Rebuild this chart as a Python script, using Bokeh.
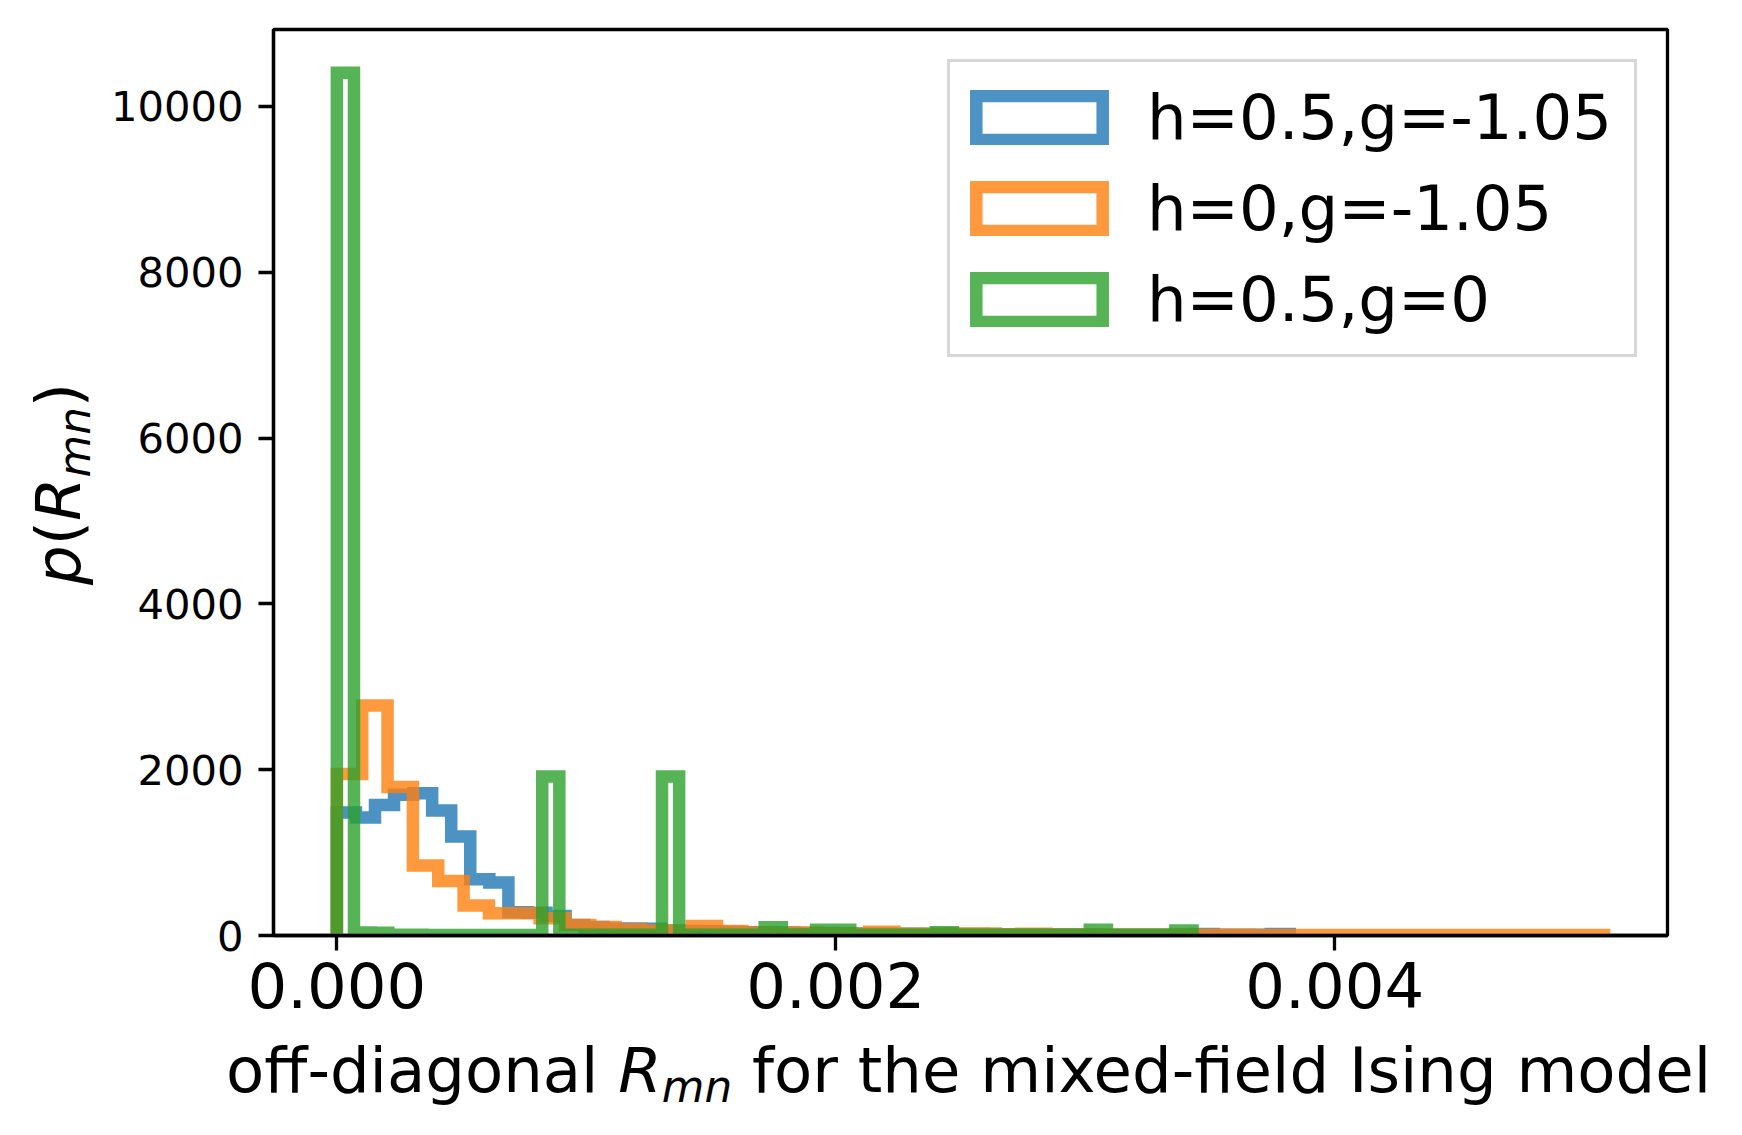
import numpy as np
from bokeh.plotting import figure
from bokeh.layouts import row, column
from bokeh.models import (Range1d, FixedTicker, NumeralTickFormatter, Legend,
                          LegendItem, Div)
from bokeh.embed import file_html
from bokeh.resources import INLINE

# ---------------- data ----------------
series_labels = ["h=0.5,g=-1.05", "h=0,g=-1.05", "h=0.5,g=0"]
series_colors = ["#1f77b4", "#ff7f0e", "#2ca02c"]

# upper end of the histogram range of each series (lower end is 0, 50 bins)
blue_max = 0.00382
orange_max = 0.00508
green_max = 0.00343

blue_vals = [1485, 1424, 1575, 1698, 1716, 1508, 1193, 680, 640, 280,
             275, 236, 128, 104, 83, 83, 80, 60, 55, 50,
             45, 40, 40, 35, 30, 30, 28, 25, 25, 22,
             20, 20, 18, 18, 15, 15, 15, 12, 12, 12,
             10, 10, 10, 10, 12, 18, 8, 8, 10, 18]

orange_vals = [1947, 2775, 1790, 845, 657, 363, 267, 269, 208, 128,
               104, 76, 60, 55, 116, 55, 35, 25, 35, 25,
               22, 44, 20, 18, 25, 25, 15, 22, 12, 12,
               10, 10, 10, 8, 8, 8, 7, 7, 7, 7,
               6, 6, 6, 6, 5, 5, 5, 5, 5, 5]

green_vals = [10408, 35, 32, 8, 8, 6, 6, 6, 6, 6,
              6, 6, 1917, 8, 8, 8, 8, 8, 8, 1917,
              10, 10, 10, 10, 10, 100, 12, 12, 68, 68,
              10, 10, 10, 10, 10, 40, 10, 10, 10, 10,
              10, 10, 10, 10, 68, 10, 10, 10, 10, 60]

x_ticks = [0.0, 0.002, 0.004]
y_ticks = [0, 2000, 4000, 6000, 8000, 10000]

x_label_parts = ["off-diagonal ", "R", "mn", " for the mixed-field Ising model"]
y_label_parts = ["p", "(", "R", "mn", ")"]

# ---------------- helpers ----------------
def step_path(vals, vmax):
    edges = np.linspace(0.0, vmax, len(vals) + 1)
    xs = np.repeat(edges, 2)
    ys = np.concatenate([[0.0], np.repeat(np.asarray(vals, float), 2), [0.0]])
    return xs, ys

all_max_x = max(blue_max, orange_max, green_max)
all_max_y = max(max(blue_vals), max(orange_vals), max(green_vals))

# layout geometry (pixels)
YL_W = 100          # strip holding the y label
FW, FH = 1394, 906  # plot frame
BL, BR, BT, BB = 173, 59, 29, 100
XL_H = 84           # strip holding the x label
TOTAL_H = BT + FH + BB + XL_H
MAIN_W = BL + FW + BR

p = figure(frame_width=FW, frame_height=FH,
           x_range=Range1d(-0.05 * all_max_x, 1.05 * all_max_x),
           y_range=Range1d(0, 1.05 * all_max_y),
           output_backend="svg", toolbar_location=None,
           min_border_left=BL, min_border_right=BR,
           min_border_top=BT, min_border_bottom=BB)

p.xgrid.visible = False
p.ygrid.visible = False
p.background_fill_color = "white"
p.border_fill_color = "white"
p.outline_line_color = "black"
p.outline_line_width = 3.3
p.outline_line_alpha = 1.0

for ax in (p.xaxis[0], p.yaxis[0]):
    ax.axis_line_color = "black"
    ax.axis_line_width = 3.3
    ax.major_tick_line_color = "black"
    ax.major_tick_line_width = 3.3
    ax.major_tick_out = 15
    ax.major_tick_in = 0
    ax.minor_tick_line_color = None
    ax.major_label_text_font = "DejaVu Sans"
    ax.major_label_text_color = "black"

p.xaxis.ticker = FixedTicker(ticks=x_ticks)
p.xaxis.formatter = NumeralTickFormatter(format="0.000")
p.xaxis.major_label_text_font_size = "62.5px"
p.xaxis.major_label_standoff = 11

p.yaxis.ticker = FixedTicker(ticks=y_ticks)
p.yaxis.formatter = NumeralTickFormatter(format="0")
p.yaxis.major_label_text_font_size = "41.7px"
p.yaxis.major_label_standoff = 15

LW = 12.5
items = []
for vals, vmax, col, lab in zip([blue_vals, orange_vals, green_vals],
                                [blue_max, orange_max, green_max],
                                series_colors, series_labels):
    xs, ys = step_path(vals, vmax)
    p.line(xs, ys, line_color=col, line_alpha=0.8, line_width=LW,
           line_join="miter", line_cap="butt")
    # legend swatch (outlined box, like a step-histogram patch); nothing drawn in the frame
    r = p.quad(left=[np.nan], right=[np.nan], bottom=[np.nan], top=[np.nan],
               fill_color=None, fill_alpha=0, line_color=col, line_alpha=0.8,
               line_width=LW, line_join="miter")
    items.append(LegendItem(label=lab, renderers=[r]))

legend = Legend(items=items, location="top_right", margin=30, padding=10,
                spacing=1, glyph_width=158, glyph_height=55, label_height=90,
                label_standoff=29, label_width=477,
                label_text_font="DejaVu Sans", label_text_font_size="62.5px",
                label_text_color="black",
                border_line_color="#d6d6d6", border_line_width=3.3,
                border_line_alpha=1.0,
                background_fill_color="white", background_fill_alpha=0.8)
p.add_layout(legend)

# ---------------- axis labels as real text (upright / italic / subscript) ----------------
FONT = "font-family:'DejaVu Sans';font-size:62.5px;line-height:62.5px;color:black;white-space:nowrap;"
SUBSTYLE = "font-size:43.75px;position:relative;top:10px;"

x_html = (x_label_parts[0] + "<i>" + x_label_parts[1] + "</i>"
          + "<i style=\"" + SUBSTYLE + "\">" + x_label_parts[2] + "</i>"
          + x_label_parts[3])
x_left = BL + FW / 2 - 743.9
x_div = Div(text=("<div style=\"position:relative;width:%dpx;height:%dpx;\">"
                  "<div style=\"position:absolute;left:%.1fpx;top:4.5px;%s\">%s</div></div>")
                 % (MAIN_W, XL_H, x_left, FONT, x_html),
            width=MAIN_W, height=XL_H, margin=(0, 0, 0, 0))

y_html = ("<i>" + y_label_parts[0] + "</i>" + y_label_parts[1]
          + "<i>" + y_label_parts[2] + "</i>"
          + "<i style=\"" + SUBSTYLE + "\">" + y_label_parts[3] + "</i>"
          + y_label_parts[4])
y_top = BT + FH / 2 + 2 + 101.1
y_div = Div(text=("<div style=\"position:relative;width:%dpx;height:%dpx;\">"
                  "<div style=\"position:absolute;left:28px;top:%.1fpx;"
                  "transform-origin:0 0;transform:rotate(-90deg);%s\">%s</div></div>")
                 % (YL_W, TOTAL_H, y_top, FONT, y_html),
            width=YL_W, height=TOTAL_H, margin=(0, 0, 0, 0))

layout = row(y_div, column(p, x_div, spacing=0), spacing=0)

open("out.html", "w").write(file_html(layout, INLINE))
